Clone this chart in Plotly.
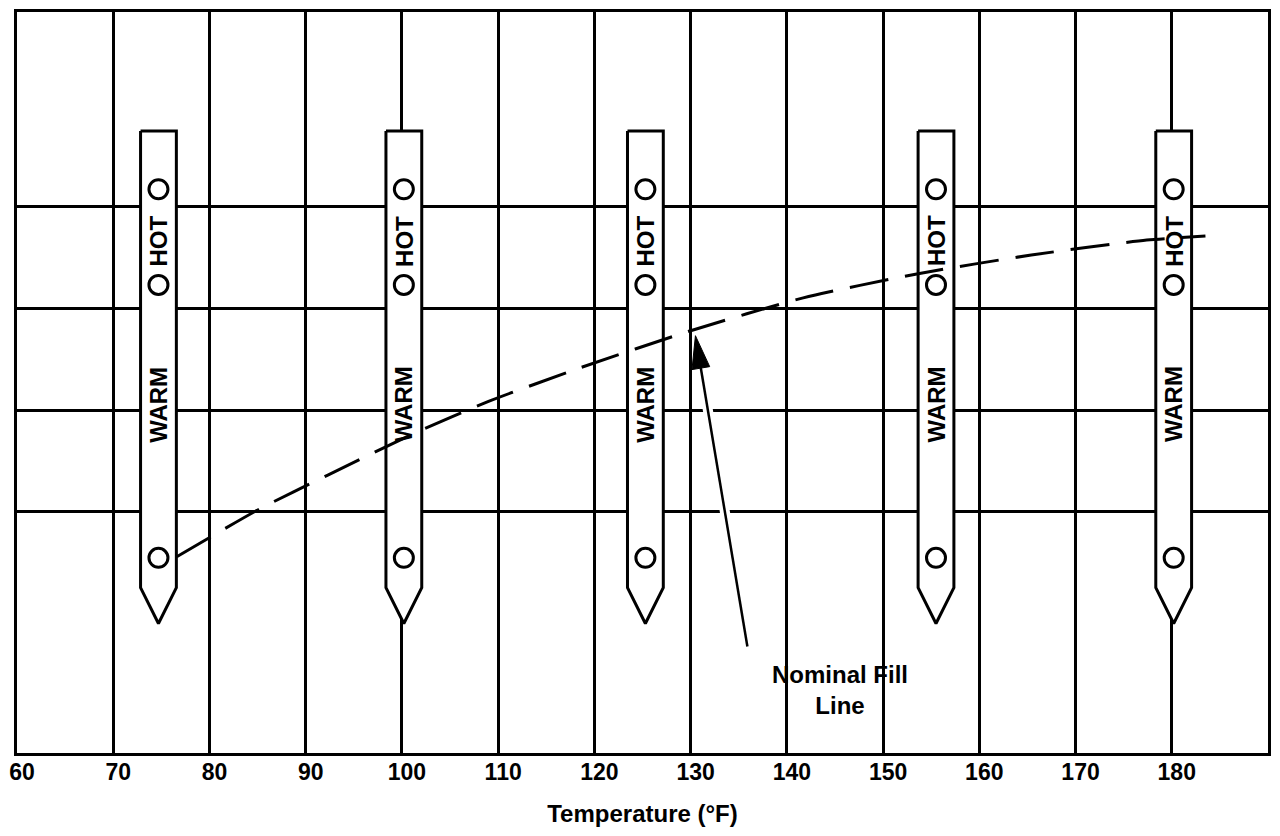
import math
import plotly.graph_objects as go

# ---- data ----
temp_ticks = [60, 70, 80, 90, 100, 110, 120, 130, 140, 150, 160, 170, 180]
grid_levels = [2.42, 3.44, 4.46, 5.49]

stick_temps = [74.7, 100.2, 125.3, 155.5, 180.2]
stick_half_width = 1.86
stick_top = 6.245
stick_shoulder = 1.66
stick_tip = 1.30
ring_levels = [5.66, 4.70, 1.96]
hot_level = 5.14
warm_level = 3.50

fill_temps = [76.6, 85.2, 92.3, 101.5, 109.0, 118.6, 130.0, 141.7, 153.5, 165.4, 177.4, 183.5]
fill_levels = [1.97, 2.45, 2.79, 3.22, 3.53, 3.87, 4.24, 4.57, 4.81, 5.00, 5.15, 5.19]

arrow_tip = (130.5, 4.19)
arrow_tail = (135.9, 1.07)
label_pos = (145.5, 0.63)
label_text = "Nominal Fill<br>Line"

X_RANGE = [60, 190]
Y_RANGE = [0, 7.44]
FONT = "Liberation Sans, Arial, Helvetica, sans-serif"

# layout geometry (page body adds an 8px offset)
FIG_W, FIG_H = 1272, 829
M_L, M_R, M_T, M_B = 5, 12, 1, 84
plot_w = FIG_W - M_L - M_R
plot_h = FIG_H - M_T - M_B
x_px = plot_w / (X_RANGE[1] - X_RANGE[0])
y_px = plot_h / (Y_RANGE[1] - Y_RANGE[0])

fig = go.Figure()

# dipstick outlines (white filled, cover the grid)
sx, sy = [], []
for c in stick_temps:
    sx += [c - stick_half_width, c - stick_half_width, c, c + stick_half_width,
           c + stick_half_width, c - stick_half_width, None]
    sy += [stick_top, stick_shoulder, stick_tip, stick_shoulder, stick_top, stick_top, None]
fig.add_trace(go.Scatter(x=sx, y=sy, mode="lines", fill="toself", fillcolor="white",
                         line=dict(color="black", width=3), hoverinfo="skip"))

# rings on each stick
rx, ry = [], []
for c in stick_temps:
    for lv in ring_levels:
        rx.append(c)
        ry.append(lv)
fig.add_trace(go.Scatter(x=rx, y=ry, mode="markers",
                         marker=dict(symbol="circle", size=19, color="white",
                                     line=dict(color="black", width=3)),
                         hoverinfo="skip"))

# pointer arrow geometry (computed in pixel space from tip/tail)
TX, TY = arrow_tip[0] * x_px, arrow_tip[1] * y_px
AX, AY = arrow_tail[0] * x_px, arrow_tail[1] * y_px
L = math.hypot(TX - AX, TY - AY)
dx, dy = (TX - AX) / L, (TY - AY) / L
nx, ny = -dy, dx
head_len, head_half = 33, 9
BX, BY = TX - head_len * dx, TY - head_len * dy

# white halo behind the pointer arrow
hx = [arrow_tail[0], arrow_tail[0] + 0.8 * (arrow_tip[0] - arrow_tail[0])]
hy = [arrow_tail[1], arrow_tail[1] + 0.8 * (arrow_tip[1] - arrow_tail[1])]
fig.add_trace(go.Scatter(x=hx, y=hy, mode="lines", line=dict(color="white", width=10),
                         hoverinfo="skip"))

# nominal fill line
fig.add_trace(go.Scatter(x=fill_temps, y=fill_levels, mode="lines",
                         line=dict(color="black", width=3, dash="39px,17px", shape="spline",
                                   smoothing=0.6),
                         hoverinfo="skip"))

# arrow shaft
fig.add_trace(go.Scatter(x=[arrow_tail[0], (BX + 4 * dx) / x_px],
                         y=[arrow_tail[1], (BY + 4 * dy) / y_px],
                         mode="lines", line=dict(color="black", width=2.5), hoverinfo="skip"))
# arrow head
fig.add_trace(go.Scatter(
    x=[TX / x_px, (BX + head_half * nx) / x_px, (BX - head_half * nx) / x_px, TX / x_px],
    y=[TY / y_px, (BY + head_half * ny) / y_px, (BY - head_half * ny) / y_px, TY / y_px],
    mode="lines", fill="toself", fillcolor="black", line=dict(color="black", width=1),
    hoverinfo="skip"))

annotations = []
for c in stick_temps:
    annotations.append(dict(x=c, y=hot_level, text="HOT", showarrow=False, textangle=-90,
                            font=dict(family=FONT, size=24, color="black", weight="bold")))
    annotations.append(dict(x=c, y=warm_level, text="WARM", showarrow=False, textangle=-90,
                            font=dict(family=FONT, size=24, color="black", weight="bold")))

annotations.append(dict(x=label_pos[0], y=label_pos[1], text=label_text, showarrow=False,
                        font=dict(family=FONT, size=24, color="black", weight="bold")))

fig.update_layout(
    width=FIG_W, height=FIG_H,
    margin=dict(l=M_L, r=M_R, t=M_T, b=M_B),
    paper_bgcolor="white", plot_bgcolor="white",
    showlegend=False, hovermode=False,
    annotations=annotations,
    xaxis=dict(range=X_RANGE, tickvals=temp_ticks, ticktext=[str(t) for t in temp_ticks],
               showgrid=True, gridcolor="black", gridwidth=3, zeroline=False,
               showline=True, mirror=True, linecolor="black", linewidth=3,
               ticks="", ticklabelshift=5, ticklabelstandoff=-4, ticklabeloverflow="allow",
               tickfont=dict(family=FONT, size=23, color="black", weight="bold"),
               title=dict(text="Temperature (°F)", standoff=22,
                          font=dict(family=FONT, size=24, color="black", weight="bold"))),
    yaxis=dict(range=Y_RANGE, tickvals=grid_levels, showticklabels=False,
               showgrid=True, gridcolor="black", gridwidth=3, zeroline=False,
               showline=True, mirror=True, linecolor="black", linewidth=3, ticks=""),
)

fig.write_html("out.html")
